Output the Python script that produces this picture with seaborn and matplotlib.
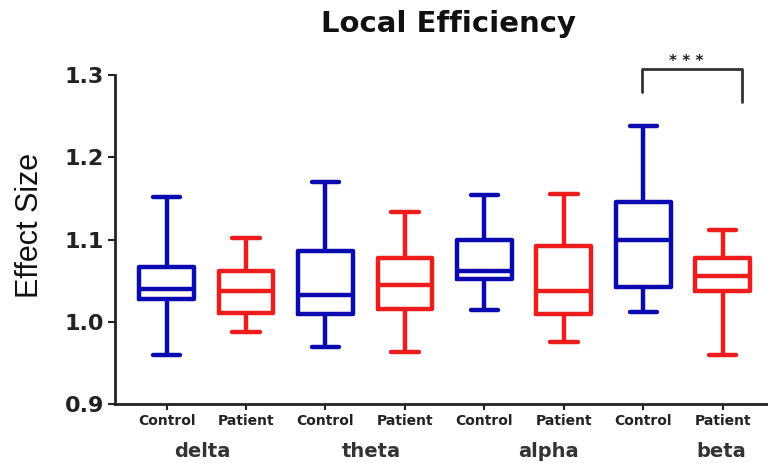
import numpy as np
import pandas as pd
import matplotlib
matplotlib.use("Agg")
import matplotlib.pyplot as plt
import seaborn as sns

# valores (mín, Q1, mediana, Q3, máx)
bandas = ["delta", "theta", "alpha", "beta"]
grupos = ["Control", "Patient"]
cores = {"Control": "#0a0ab0", "Patient": "#ee1c1c"}

delta_control = [0.959, 1.028, 1.040, 1.067, 1.152]
delta_patient = [0.988, 1.011, 1.037, 1.062, 1.102]
theta_control = [0.969, 1.009, 1.033, 1.086, 1.170]
theta_patient = [0.963, 1.015, 1.045, 1.078, 1.133]
alpha_control = [1.014, 1.052, 1.062, 1.099, 1.154]
alpha_patient = [0.976, 1.009, 1.038, 1.092, 1.155]
beta_control = [1.012, 1.042, 1.100, 1.145, 1.238]
beta_patient = [0.959, 1.038, 1.056, 1.077, 1.112]

series = {
    ("delta", "Control"): delta_control,
    ("delta", "Patient"): delta_patient,
    ("theta", "Control"): theta_control,
    ("theta", "Patient"): theta_patient,
    ("alpha", "Control"): alpha_control,
    ("alpha", "Patient"): alpha_patient,
    ("beta", "Control"): beta_control,
    ("beta", "Patient"): beta_patient,
}

linhas = []
for (banda, grupo), valores in series.items():
    for v in valores:
        linhas.append({"pos": f"{banda} {grupo}", "grupo": grupo, "valor": v})
df = pd.DataFrame(linhas)
ordem = [f"{b} {g}" for b in bandas for g in grupos]

sns.set_style("ticks")
plt.rcParams["font.family"] = ["DejaVu Sans"]

fig = plt.figure(figsize=(7.68, 4.63), dpi=100)
ax = fig.add_axes([0.1497, 0.1274, 0.8503, 0.7106])

sns.boxplot(
    data=df, x="pos", y="valor", hue="grupo", order=ordem,
    palette=cores, fill=False, whis=(0, 100), width=0.69,
    linewidth=3.2, dodge=False, legend=False, ax=ax
)

ax.set_xlim(-0.65, 7.57)
ax.set_ylim(0.9, 1.3)
ax.set_yticks([0.9, 1.0, 1.1, 1.2, 1.3])
ax.set_yticklabels([f"{v:.1f}" for v in [0.9, 1.0, 1.1, 1.2, 1.3]],
                   fontsize=16, fontweight="bold", color="#222222")
ax.set_xticks(range(len(ordem)))
ax.set_xticklabels([g for b in bandas for g in grupos],
                   fontsize=10, fontweight="bold", color="#222222")
ax.tick_params(axis="x", length=4, width=1.5, pad=3, color="#222222")
ax.tick_params(axis="y", length=5, width=1.5, pad=3, color="#222222")

for lado in ["top", "right"]:
    ax.spines[lado].set_visible(False)
for lado in ["left", "bottom"]:
    ax.spines[lado].set_linewidth(2)
    ax.spines[lado].set_color("#222222")

ax.set_xlabel("")
ax.set_ylabel("Effect Size", fontsize=22, family=["Liberation Sans"], color="#111111")
ax.yaxis.set_label_coords(-0.107, 0.544)

# rótulos das bandas
pos_bandas = [0.45, 2.58, 4.8, 6.98]
for nome, xb in zip(bandas, pos_bandas):
    ax.text(xb, -0.145, nome, transform=ax.get_xaxis_transform(),
            ha="center", va="center", fontsize=14, fontweight="bold", color="#333333")

ax.set_title("Local Efficiency", fontsize=21, fontweight="bold", color="#111111",
             pad=31, x=0.51)

# colchete de significância
ax.plot([5.98, 5.98, 7.24, 7.24], [1.2797, 1.3073, 1.3073, 1.2675],
        color="#333333", linewidth=2, clip_on=False)
ax.text(6.54, 1.307, "* * *", ha="center", va="bottom", fontsize=11,
        fontweight="bold", color="#222222", clip_on=False)

plt.savefig("out.png", dpi=100)
plt.close()
